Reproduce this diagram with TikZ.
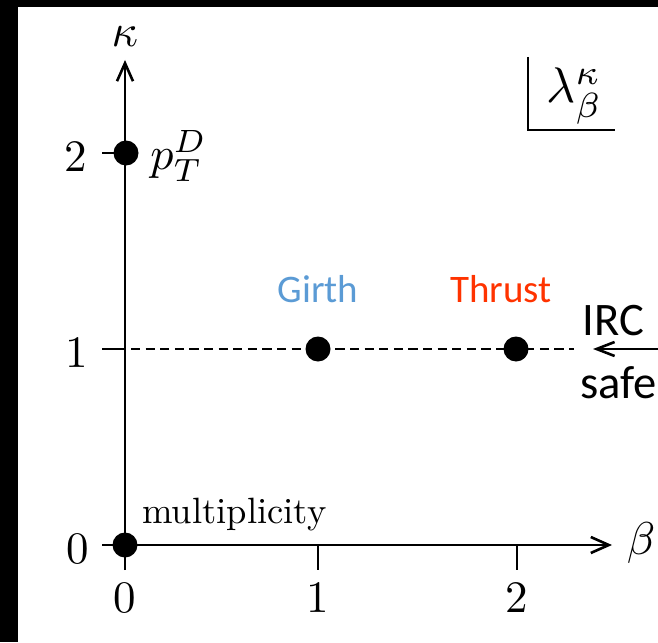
\RequirePackage{fix-cm}
\documentclass[tikz,border=0pt]{standalone}
\usepackage{fontspec}
\setmainfont{lmroman10-regular.otf}[ItalicFont=lmroman10-italic.otf,BoldFont=lmroman10-bold.otf]
\newfontfamily\carlito{Carlito}
\usetikzlibrary{arrows.meta}
\definecolor{girthblue}{RGB}{91,155,213}
\definecolor{thrustred}{RGB}{255,51,0}
\tikzset{
  axisline/.style={line width=1.3pt},
  axisarrow/.style={axisline,-{Straight Barb[length=9pt,width=8pt,line width=1.3pt]}},
  tickline/.style={line width=1.3pt},
  dot/.style={circle,fill=black,inner sep=0pt,minimum size=12.5pt},
  ticklab/.style={inner sep=0pt,font=\fontsize{22.5}{27}\selectfont},
  axlab/.style={inner sep=0pt},
  sanslab/.style={inner sep=0pt,font=\carlito\fontsize{19.5}{23}\selectfont},
  irclab/.style={inner sep=0pt,font=\carlito\fontsize{23.3}{28}\selectfont},
  dashline/.style={line width=1.3pt,dash pattern=on 4.6pt off 2.7pt,dash phase=-3pt},
}
\begin{document}
\begin{tikzpicture}[x=0.5pt,y=-0.5pt]
\useasboundingbox (0,0) rectangle (658,642);
\clip (0,0) rectangle (658,642);
% frame bands
\fill[black] (0,0) rectangle (18,642);
\fill[black] (0,0) rectangle (658,7);
% coordinates
\coordinate (ybot) at (125,570);
\coordinate (ytop) at (125,60);
\coordinate (xleft) at (102,545);
\coordinate (xright) at (612,545);
\coordinate (t1b) at (318,545);
\coordinate (t1e) at (318,570);
\coordinate (t2b) at (517,545);
\coordinate (t2e) at (517,570);
\coordinate (k1a) at (102,349);
\coordinate (k1b) at (125,349);
\coordinate (k2a) at (102,153);
\coordinate (k2b) at (125,153);
\coordinate (dend) at (574,349);
\coordinate (ircA) at (660,349);
\coordinate (ircB) at (593,349);
\coordinate (bx1) at (528,57);
\coordinate (bx2) at (528,130);
\coordinate (bx3) at (615,130);
% axes
\draw[axisarrow] (ybot) -- (ytop);
\draw[axisarrow] (xleft) -- (xright);
% ticks
\draw[tickline] (t1b) -- (t1e);
\draw[tickline] (t2b) -- (t2e);
\draw[tickline] (k1a) -- (k1b);
\draw[tickline] (k2a) -- (k2b);
% dashed IRC line
\draw[dashline] (k1b) -- (dend);
% points
\node[dot] (mult) at (125,545) {};
\node[dot] (ptd) at (126,153) {};
\node[dot] (girth) at (318,349) {};
\node[dot] (thrust) at (516,349) {};
% tick labels
\node[ticklab] (bx0) at (125,598) {0};
\node[ticklab] (bx1l) at (318,598) {1};
\node[ticklab] (bx2l) at (517,598) {2};
\node[ticklab] (ky0) at (78,549) {0};
\node[ticklab] (ky1) at (77,353) {1};
\node[ticklab] (ky2) at (76,157) {2};
% axis labels
\node[axlab] (kappa) at (125,37) {\scalebox{2.3}{$\kappa$}};
\node[axlab] (beta) at (641,543) {\scalebox{2.3}{$\beta$}};
% point labels
\node[axlab,anchor=west] (ptdlab) at (150,156) {\scalebox{2.3}{$p_T^D$}};
\node[inner sep=0pt,anchor=base west,font=\fontsize{18.3}{22}\selectfont] (multlab) at (142,523) {multiplicity};
\node[sanslab,anchor=base,text=girthblue] (girthlab) at (318,302) {Girth};
\node[sanslab,anchor=base,text=thrustred] (thrustlab) at (501,302) {Thrust};
% IRC safe
\node[irclab,anchor=base west] (irc) at (582,335) {IRC};
\node[irclab,anchor=base west] (safe) at (580,398) {safe};
\draw[line width=1.3pt,-{Straight Barb[length=9pt,width=7pt,line width=1.3pt]}] (ircA) -- (ircB);
% lambda box
\draw[line width=1.3pt] (bx1) -- (bx2) -- (bx3);
\node[inner sep=0pt,anchor=base west] (lam) at (546,103) {\scalebox{2.5}{$\lambda^\kappa_\beta$}};
\end{tikzpicture}
\end{document}
